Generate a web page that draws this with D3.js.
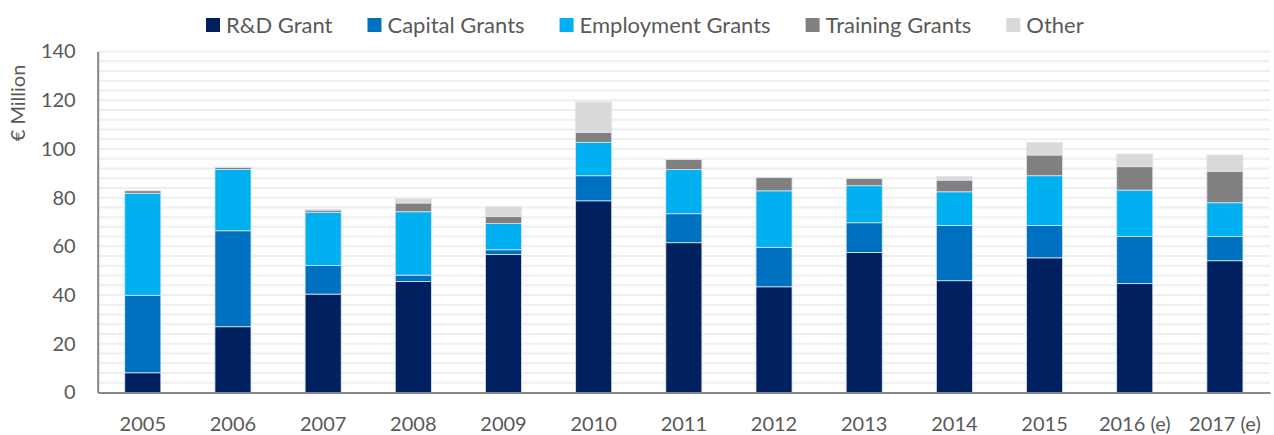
<!DOCTYPE html>
<html>
<head>
<meta charset="utf-8">
<script src="https://cdn.jsdelivr.net/npm/d3@7"></script>
<style>
  body { margin: 0; background: #fff; }
  svg { display: block; font-family: Lato, "Open Sans", sans-serif; }
</style>
</head>
<body>
<svg id="chart"></svg>
<script>
// data
const years = ["2005", "2006", "2007", "2008", "2009", "2010", "2011", "2012", "2013", "2014", "2015", "2016 (e)", "2017 (e)"];
const seriesNames = ["R&D Grant", "Capital Grants", "Employment Grants", "Training Grants", "Other"];
const rdGrant = [8.1, 27.0, 40.4, 45.6, 56.7, 78.7, 61.5, 43.4, 57.5, 45.9, 55.3, 44.7, 54.1];
const capitalGrants = [31.8, 39.4, 11.7, 2.6, 1.9, 10.3, 11.9, 16.2, 12.2, 22.7, 13.3, 19.4, 9.9];
const employmentGrants = [41.9, 25.2, 21.9, 26.0, 10.8, 13.7, 18.1, 23.2, 15.2, 13.8, 20.4, 19.0, 13.9];
const trainingGrants = [1.0, 0.8, 0.9, 3.6, 2.8, 4.1, 4.1, 5.4, 2.9, 4.8, 8.5, 9.6, 12.9];
const other = [0, 0.2, 0.2, 1.7, 4.1, 12.5, 0, 0, 0, 1.5, 5.2, 5.2, 6.7];
const yTicks = [0, 20, 40, 60, 80, 100, 120, 140];
const colors = ["#002060", "#0070C0", "#00B0F0", "#808080", "#D9D9D9"];

//////////////////////////
// Chart specifications //
//////////////////////////
const W = 1274, H = 435;
const margin = { top: 51.5, right: 4, bottom: 42.5, left: 97.7 };

const rows = years.map((yr, i) => ({
  year: yr,
  "R&D Grant": rdGrant[i],
  "Capital Grants": capitalGrants[i],
  "Employment Grants": employmentGrants[i],
  "Training Grants": trainingGrants[i],
  "Other": other[i],
}));
const stacked = d3.stack().keys(seriesNames)(rows);

const x = d3.scaleBand()
  .domain(years)
  .range([margin.left, W - margin.right])
  .paddingInner(0.6)
  .paddingOuter(0.3);

const y = d3.scaleLinear()
  .domain([0, 140])
  .range([H - margin.bottom, margin.top]);

const color = d3.scaleOrdinal().domain(seriesNames).range(colors);

const svg = d3.select("#chart").attr("width", W).attr("height", H);

// gridlines every 4
svg.append("g")
  .selectAll("line")
  .data(d3.range(4, 141, 4))
  .join("line")
  .attr("x1", margin.left)
  .attr("x2", W - margin.right)
  .attr("y1", d => y(d))
  .attr("y2", d => y(d))
  .attr("stroke", "#efefef")
  .attr("stroke-width", 2);

// bars
svg.append("g")
  .selectAll("g")
  .data(stacked)
  .join("g")
  .attr("fill", d => color(d.key))
  .selectAll("rect")
  .data(d => d.filter(s => s[1] - s[0] > 0))
  .join("rect")
  .attr("x", d => x(d.data.year))
  .attr("width", x.bandwidth())
  .attr("y", d => y(d[1]))
  .attr("height", d => y(d[0]) - y(d[1]))
  .attr("stroke", "#dbe5f1")
  .attr("stroke-width", 0.8);

// y axis
const yAxis = g => g
  .attr("transform", `translate(${margin.left},0)`)
  .call(d3.axisLeft(y).tickValues(yTicks).tickSize(0).tickPadding(22))
  .call(g => g.select(".domain").attr("stroke", "#868686").attr("stroke-width", 2))
  .call(g => g.selectAll("text")
    .attr("fill", "#595959")
    .style("font-size", "20px")
    .style("font-family", "Lato, 'Open Sans', sans-serif"));
svg.append("g").call(yAxis);

// x axis
const xAxis = g => g
  .attr("transform", `translate(0,${H - margin.bottom})`)
  .call(d3.axisBottom(x).tickSize(0).tickPadding(24))
  .call(g => g.select(".domain").attr("stroke", "#868686").attr("stroke-width", 2))
  .call(g => g.selectAll("text")
    .attr("fill", "#595959")
    .style("font-size", "20px")
    .style("font-family", "Lato, 'Open Sans', sans-serif"));
svg.append("g").call(xAxis);

// axis title
svg.append("text")
  .attr("transform", "translate(25,103) rotate(-90)")
  .attr("text-anchor", "middle")
  .attr("fill", "#595959")
  .style("font-size", "20px")
  .text("€ Million");

// legend
const legend = svg.append("g").attr("transform", "translate(206,0)");
const items = legend.selectAll("g")
  .data(seriesNames)
  .join("g");
items.append("rect")
  .attr("width", 14)
  .attr("height", 14)
  .attr("y", 18)
  .attr("fill", d => color(d));
items.append("text")
  .attr("x", 20)
  .attr("y", 32.5)
  .attr("fill", "#595959")
  .style("font-size", "22px")
  .text(d => d);

let cx = 0;
items.each(function () {
  const w = d3.select(this).select("text").node().getComputedTextLength();
  d3.select(this).attr("transform", `translate(${cx},0)`);
  cx += 20 + w + 35;
});
</script>
</body>
</html>
